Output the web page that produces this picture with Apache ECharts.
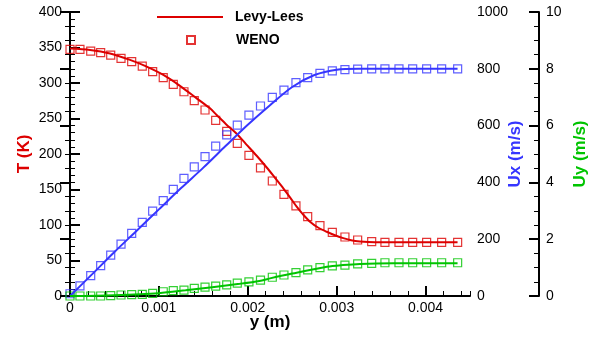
<!DOCTYPE html>
<html>
<head>
<meta charset="utf-8">
<script src="https://cdn.jsdelivr.net/npm/echarts@6/dist/echarts.min.js"></script>
<style>
  html, body { margin: 0; padding: 0; background: #fff; }
  #chart { width: 597px; height: 340px; }
</style>
</head>
<body>
<div id="chart"></div>
<script>
// WENO sample positions y (m)
const wenoY = [0, 0.000112, 0.000233, 0.000345, 0.000458, 0.000574, 0.000694, 0.000813, 0.000930, 0.001049,
  0.001162, 0.001282, 0.001398, 0.001519, 0.001639, 0.001763, 0.001882, 0.002013, 0.002143, 0.002276,
  0.002407, 0.002542, 0.002674, 0.002812, 0.002951, 0.003093, 0.003236, 0.003394, 0.003543, 0.003701,
  0.003855, 0.004012, 0.004181, 0.004361];
const wenoT = [347.5, 347.5, 345, 342.7, 339.4, 334.8, 330, 323.9, 315.9, 307.5,
  298.2, 287.7, 275.1, 262, 247.5, 232, 215.1, 198.2, 180.5, 162,
  143.2, 126.8, 111.7, 99, 89.7, 83.1, 78.9, 76.5, 75.6, 75.6,
  75.6, 75.6, 75.6, 75.6];
const wenoUx = [8, 36, 71.5, 106.7, 144, 183, 220.8, 259.5, 299, 335.6,
  375.7, 414.4, 455, 490.5, 528, 567, 602, 637, 669, 699.6,
  725, 751, 768.7, 784, 793, 797, 799, 800, 800, 800,
  800, 800, 800, 800];
const wenoUy = [0, 0, 0, 0, 0.01, 0.035, 0.045, 0.06, 0.09, 0.15,
  0.19, 0.21, 0.27, 0.31, 0.35, 0.39, 0.45, 0.5, 0.56, 0.66,
  0.74, 0.82, 0.92, 1.0, 1.06, 1.09, 1.13, 1.15, 1.17, 1.17,
  1.17, 1.17, 1.17, 1.17];

// Levy-Lees curves
const levyTY = [0, 0.000225, 0.00045, 0.000675, 0.000844, 0.00105, 0.001237, 0.001425, 0.001575, 0.00165,
  0.001755, 0.001875, 0.00198, 0.0021, 0.002213, 0.002306, 0.0024, 0.002475, 0.00255, 0.002621,
  0.0027, 0.00279, 0.002888, 0.002981, 0.003074, 0.003161, 0.003262, 0.003431, 0.00436];
const levyT = [348.5, 346.5, 341.5, 332.5, 324, 311.3, 296, 278.4, 264.3, 255,
  242, 228.5, 214, 197.5, 181, 166.5, 151.7, 139, 125.8, 115,
  104.6, 96.5, 90.5, 85.5, 81.5, 78.5, 76.8, 75.8, 75.8];
const levyUxY = [0, 0.00025, 0.0005, 0.00075, 0.001, 0.00125, 0.0015, 0.00175, 0.002, 0.00225,
  0.0025, 0.00275, 0.003, 0.00325, 0.00436];
const levyUx = [0, 77, 155, 230, 305, 380, 452, 528, 603, 672,
  736, 778, 797, 800, 800];
const levyUyY = [0, 0.0005, 0.001, 0.0013, 0.0016, 0.00191, 0.00213, 0.00225, 0.0025, 0.00289, 0.00307, 0.00326, 0.00364, 0.00436];
const levyUy = [0, 0.03, 0.1, 0.2, 0.31, 0.43, 0.53, 0.62, 0.79, 1.03, 1.09, 1.13, 1.15, 1.15];

const RED = "#dd0000";
const BLUE = "#3636ff";
const GREEN = "#00c400";
const FONT = "'Liberation Sans', Arial, sans-serif";

const pairs = (xs, ys) => xs.map((x, i) => [x, ys[i]]);

const chart = echarts.init(document.getElementById("chart"));

const tickLabel = { color: "#000", fontSize: 14, fontFamily: FONT, formatter: (v) => String(v) };
const legendText = { color: "#000", fontSize: 14, fontWeight: "bold", fontFamily: FONT };

function yAxisBase(opts) {
  return Object.assign({
    type: "value",
    nameLocation: "middle",
    nameRotate: 90,
    nameMoveOverlap: false,
    axisLine: { show: true, lineStyle: { color: "#000", width: 2 } },
    axisTick: { show: true, inside: true, length: 10, lineStyle: { color: "#000", width: 2 } },
    splitLine: { show: false },
    axisLabel: Object.assign({ margin: 8 }, tickLabel),
  }, opts);
}

chart.setOption({
  animation: false,
  backgroundColor: "#fff",
  textStyle: { fontFamily: FONT },
  grid: { left: 70, right: 127, top: 12, bottom: 44, outerBoundsMode: "none", containLabel: false },
  legend: [
    {
      left: 152,
      top: 5,
      itemWidth: 66,
      itemHeight: 2,
      data: [{ name: "Levy-Lees", icon: "rect" }],
      textStyle: Object.assign({ padding: [0, 0, 0, 7] }, legendText),
    },
    {
      left: 181,
      top: 28,
      itemWidth: 8,
      itemHeight: 8,
      data: [{ name: "WENO", icon: "rect" }],
      textStyle: Object.assign({ padding: [0, 0, 0, 36] }, legendText),
    },
  ],
  xAxis: [
    {
      type: "value",
      min: 0,
      max: 0.0045,
      interval: 0.001,
      name: "y (m)",
      nameLocation: "middle",
      nameGap: 18,
      nameMoveOverlap: false,
      nameTextStyle: { color: "#000", fontSize: 17, fontWeight: "bold", fontFamily: FONT },
      axisLine: { show: true, onZero: false, lineStyle: { color: "#000", width: 2 } },
      axisTick: { show: true, inside: true, length: 10, lineStyle: { color: "#000", width: 2 } },
      splitLine: { show: false },
      axisLabel: Object.assign({ margin: 5, showMaxLabel: false }, tickLabel),
    },
    {
      // minor ticks every 0.0002
      type: "value",
      min: 0,
      max: 0.0045,
      interval: 0.0002,
      position: "bottom",
      axisLine: { show: false },
      axisTick: { show: true, inside: true, length: 5, lineStyle: { color: "#000", width: 1 } },
      axisLabel: { show: false },
      splitLine: { show: false },
    },
  ],
  yAxis: [
    yAxisBase({
      position: "left",
      min: 0, max: 400, interval: 50,
      minorTick: { show: true, splitNumber: 5, length: 5, lineStyle: { color: "#000", width: 1 } },
      name: "T (K)",
      nameGap: 37,
      nameTextStyle: { color: RED, fontSize: 17, fontWeight: "bold", fontFamily: FONT },
    }),
    yAxisBase({
      position: "right",
      offset: 0,
      min: 0, max: 1000, interval: 200,
      minorTick: { show: true, splitNumber: 4, length: 5, lineStyle: { color: "#000", width: 1 } },
      axisLabel: Object.assign({ margin: 7 }, tickLabel),
      name: "Ux (m/s)",
      nameGap: 37,
      nameTextStyle: { color: BLUE, fontSize: 17, fontWeight: "bold", fontFamily: FONT },
    }),
    yAxisBase({
      position: "right",
      offset: 69,
      min: 0, max: 10, interval: 2,
      minorTick: { show: true, splitNumber: 4, length: 5, lineStyle: { color: "#000", width: 1 } },
      axisLabel: Object.assign({ margin: 7 }, tickLabel),
      name: "Uy (m/s)",
      nameGap: 33,
      nameTextStyle: { color: GREEN, fontSize: 17, fontWeight: "bold", fontFamily: FONT },
    }),
  ],
  series: [
    {
      name: "Levy-Lees", type: "line", yAxisIndex: 0, symbol: "none", smooth: 0.3,
      lineStyle: { color: RED, width: 2 }, itemStyle: { color: RED },
      data: pairs(levyTY, levyT),
    },
    {
      name: "WENO", type: "scatter", yAxisIndex: 0, symbol: "rect", symbolSize: 8,
      itemStyle: { color: "rgba(0,0,0,0)", borderColor: RED, borderWidth: 1.2 },
      data: pairs(wenoY, wenoT),
    },
    {
      name: "Levy-Lees Ux", type: "line", yAxisIndex: 1, symbol: "none", smooth: 0.3,
      lineStyle: { color: BLUE, width: 2 }, itemStyle: { color: BLUE },
      data: pairs(levyUxY, levyUx),
    },
    {
      name: "WENO Ux", type: "scatter", yAxisIndex: 1, symbol: "rect", symbolSize: 8,
      itemStyle: { color: "rgba(0,0,0,0)", borderColor: BLUE, borderWidth: 1.2 },
      data: pairs(wenoY, wenoUx),
    },
    {
      name: "Levy-Lees Uy", type: "line", yAxisIndex: 2, symbol: "none", smooth: 0.3,
      lineStyle: { color: GREEN, width: 2 }, itemStyle: { color: GREEN },
      data: pairs(levyUyY, levyUy),
    },
    {
      name: "WENO Uy", type: "scatter", yAxisIndex: 2, symbol: "rect", symbolSize: 8,
      itemStyle: { color: "rgba(0,0,0,0)", borderColor: GREEN, borderWidth: 1.2 },
      data: pairs(wenoY, wenoUy),
    },
  ],
});
</script>
</body>
</html>
